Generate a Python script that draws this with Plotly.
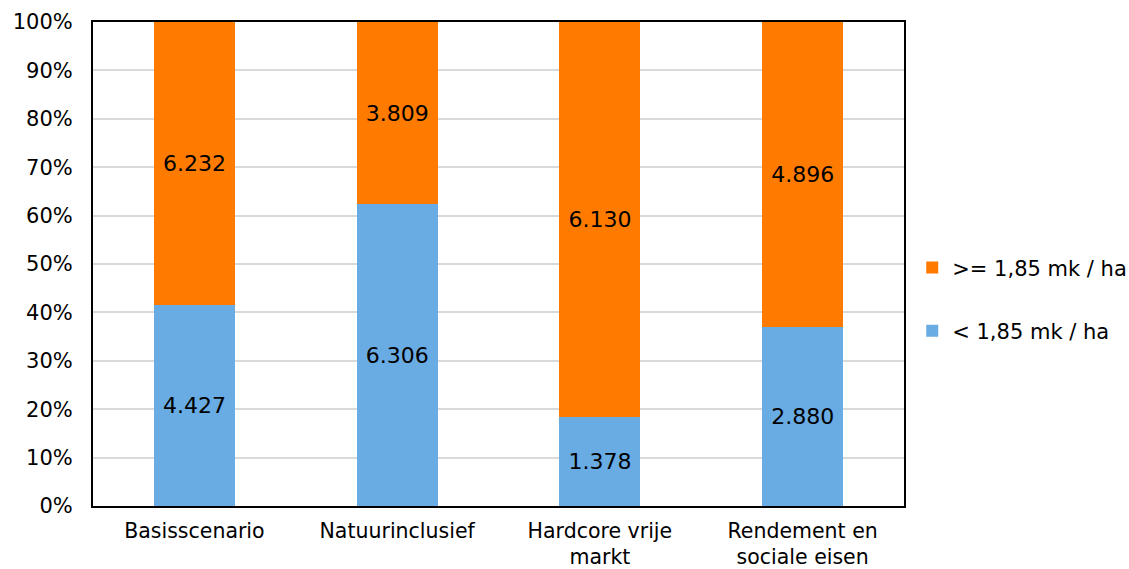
import plotly.graph_objects as go

# Scenario categories and area counts per class
categories = ["Basisscenario", "Natuurinclusief", "Hardcore vrije<br>markt", "Rendement en<br>sociale eisen"]
below_185 = [4427, 6306, 1378, 2880]
above_185 = [6232, 3809, 6130, 4896]
tick_vals = [0, 10, 20, 30, 40, 50, 60, 70, 80, 90, 100]
tick_text = [f"{v}%" for v in tick_vals]

FONT = "Verdana, DejaVu Sans, sans-serif"


def nl(v):
    return f"{v:,}".replace(",", ".")


fig = go.Figure()
fig.add_trace(go.Bar(
    x=categories, y=below_185, name="< 1,85 mk / ha",
    marker=dict(color="#69ABE3", line=dict(width=0)),
    text=[nl(v) for v in below_185], textposition="inside",
    insidetextanchor="middle", textangle=0,
    textfont=dict(family=FONT, size=22, color="#000000"),
    legendgroup="a", legendrank=2, hoverinfo="skip",
))
fig.add_trace(go.Bar(
    x=categories, y=above_185, name=">= 1,85 mk / ha",
    marker=dict(color="#FF7B00", line=dict(width=0)),
    text=[nl(v) for v in above_185], textposition="inside",
    insidetextanchor="middle", textangle=0,
    textfont=dict(family=FONT, size=22, color="#000000"),
    legendgroup="b", legendrank=1, hoverinfo="skip",
))

fig.update_layout(
    width=1129, height=569,
    barmode="stack", barnorm="percent", bargap=0.6,
    margin=dict(l=93, r=225, t=22, b=63),
    plot_bgcolor="#FFFFFF", paper_bgcolor="#FFFFFF",
    font=dict(family=FONT, size=21, color="#000000"),
    uniformtext=dict(mode=False),
    legend=dict(
        xref="container", yref="container",
        x=0.808, y=0.474, xanchor="left", yanchor="middle",
        traceorder="grouped", tracegroupgap=33,
        font=dict(family=FONT, size=21, color="#000000"),
        bgcolor="rgba(0,0,0,0)",
    ),
    xaxis=dict(
        showline=True, linecolor="#000000", linewidth=2, mirror=True,
        ticks="", showgrid=False, ticklabelstandoff=5, automargin=False,
        tickfont=dict(family=FONT, size=20.5, color="#000000"),
    ),
    yaxis=dict(
        range=[0, 100], tickvals=tick_vals, ticktext=tick_text,
        showline=True, linecolor="#000000", linewidth=2, mirror=True,
        showgrid=True, gridcolor="#D9D9D9", gridwidth=2,
        ticks="", zeroline=False, ticklabelstandoff=14, automargin=False,
        tickfont=dict(family=FONT, size=21, color="#000000"),
    ),
)

fig.write_html("out.html")
